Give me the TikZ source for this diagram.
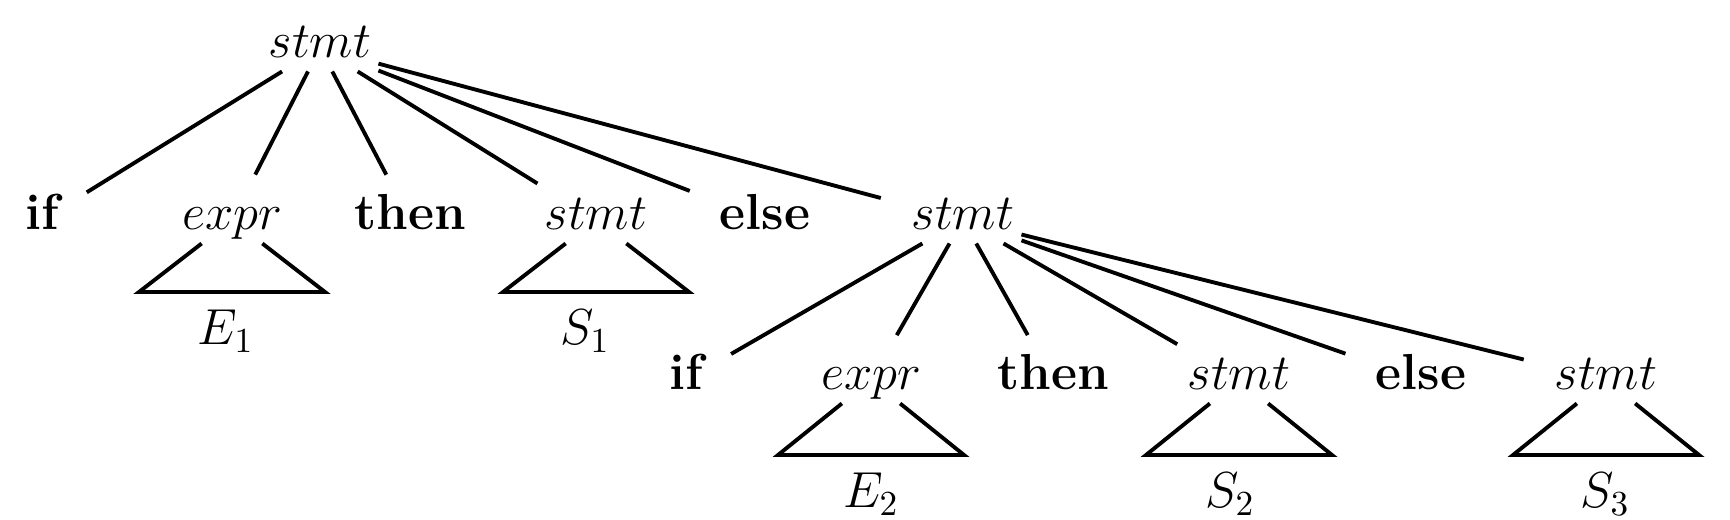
\documentclass[tikz,border=0pt]{standalone}
\usepackage{amsmath}
\usepackage{tikz}
\usetikzlibrary{positioning}

\begin{document}
\begin{tikzpicture}[
		line width=1.1pt,
		kw/.style={inner sep=1.5pt, text height=1.7ex, text depth=0.45ex, font=\Large\bfseries},
		nt/.style={inner sep=1.5pt, text height=1.7ex, text depth=0.45ex, font=\Large},
		sub/.style={font=\Large},
		branch/.style={shorten >=7pt}
	]
		\useasboundingbox (0,0) rectangle (17.3,-5.2);
		
		%root
		\node[nt] (stmt) at (3.20,-0.48) {$stmt$};
		
		%first level
		\node[kw] (if1) at (0.42,-2.20) {if};
		\node[nt] (expr1) at (2.32,-2.20) {$expr$};
		\node[kw] (then1) at (4.10,-2.20) {then};
		\node[nt] (stmt1) at (5.96,-2.20) {$stmt$};
		\node[kw] (else1) at (7.65,-2.20) {else};
		\node[nt] (stmt2) at (9.63,-2.20) {$stmt$};
		
		%second level
		\node[kw] (if2) at (6.86,-3.80) {if};
		\node[nt] (expr2) at (8.71,-3.80) {$expr$};
		\node[kw] (then2) at (10.53,-3.80) {then};
		\node[nt] (stmt3) at (12.39,-3.80) {$stmt$};
		\node[kw] (else2) at (14.21,-3.80) {else};
		\node[nt] (stmt4) at (16.06,-3.80) {$stmt$};
		
		%subtrees
		\node[sub] (E1) at (2.26,-3.31) {$E_1$};
		\node[sub] (S1) at (5.85,-3.31) {$S_1$};
		\node[sub] (E2) at (8.71,-4.94) {$E_2$};
		\node[sub] (S2) at (12.30,-4.94) {$S_2$};
		\node[sub] (S3) at (16.05,-4.94) {$S_3$};
		
		%edges
		\foreach \c in {if1,expr1,then1,stmt1,else1,stmt2}
			\draw[branch] (stmt) -- (\c);
		\foreach \c in {if2,expr2,then2,stmt3,else2,stmt4}
			\draw[branch] (stmt2) -- (\c);
		
		%triangles
		\foreach \n in {expr1,stmt1}
			\draw (\n) -- ++(-0.93,-0.72) -- ++(1.86,0) -- (\n);
		\foreach \n in {expr2,stmt3,stmt4}
			\draw (\n) -- ++(-0.93,-0.75) -- ++(1.86,0) -- (\n);
	\end{tikzpicture}
\end{document}
